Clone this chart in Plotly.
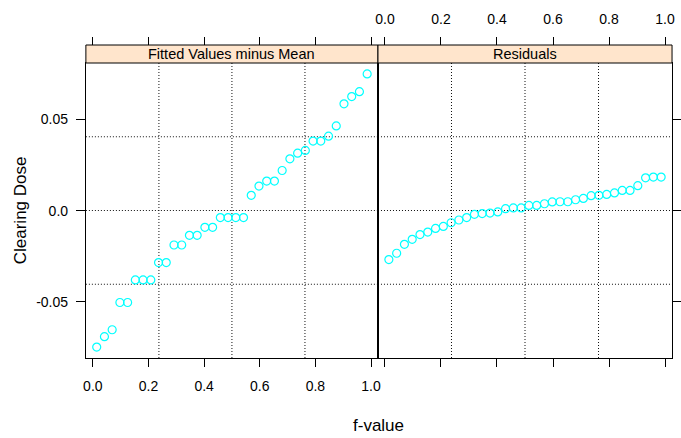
import plotly.graph_objects as go
import numpy as np

fitted_minus_mean = [-0.0747, -0.0690, -0.0652, -0.0503, -0.0503, -0.0379, -0.0379, -0.0379,
                     -0.0284, -0.0284, -0.0188, -0.0188, -0.0135, -0.0135, -0.0091, -0.0091,
                     -0.0038, -0.0038, -0.0038, -0.0038, 0.0084, 0.0135, 0.0162, 0.0162,
                     0.0220, 0.0284, 0.0315, 0.0330, 0.0381, 0.0381, 0.0408, 0.0464,
                     0.0585, 0.0625, 0.0652, 0.0749]
residuals = [-0.0268, -0.0233, -0.0184, -0.0157, -0.0131, -0.0117, -0.0097, -0.0086,
             -0.0066, -0.0051, -0.0038, -0.0020, -0.0016, -0.0013, -0.0007, 0.0011,
             0.0015, 0.0015, 0.0029, 0.0029, 0.0038, 0.0048, 0.0049, 0.0049,
             0.0060, 0.0067, 0.0082, 0.0084, 0.0089, 0.0097, 0.0111, 0.0111,
             0.0137, 0.0180, 0.0184, 0.0184]
panel_titles = ["Fitted Values minus Mean", "Residuals"]
x_ticks = [0.0, 0.2, 0.4, 0.6, 0.8, 1.0]
x_ticktext = ["0.0", "0.2", "0.4", "0.6", "0.8", "1.0"]
y_ticks = [-0.05, 0.0, 0.05]
y_ticktext = ["-0.05", "0.0", "0.05"]

n = len(residuals)
fvals = [(i + 0.5) / n for i in range(n)]

def extend(lo, hi, f=0.04):
    d = hi - lo
    return [lo - f * d, hi + f * d]

allv = fitted_minus_mean + residuals
yr = extend(min(allv), max(allv))
xr = extend(min(fvals), max(fvals))

W, H = 681, 438
FONT = "Liberation Sans, Arial, Helvetica, sans-serif"
px_l0, px_l1, px_r1 = 84, 380, 678
py_top, py_bot, py_strip = 63, 358, 45
dom_l = [px_l0 / W, px_l1 / W]
dom_r = [px_l1 / W, px_r1 / W]
dom_y = [(H - py_bot) / H, (H - py_top) / H]
strip_y0 = (H - py_top) / H
strip_y1 = (H - py_strip) / H

fig = go.Figure()
mk = dict(symbol="circle-open", size=8, color="#00FFFF", line=dict(width=1.2, color="#00FFFF"))
fig.add_trace(go.Scatter(x=fvals, y=fitted_minus_mean, mode="markers", marker=mk,
                         xaxis="x", yaxis="y", showlegend=False))
fig.add_trace(go.Scatter(x=fvals, y=residuals, mode="markers", marker=mk,
                         xaxis="x2", yaxis="y2", showlegend=False))
# dummy traces so overlay axes are drawn
fig.add_trace(go.Scatter(x=[None], y=[None], xaxis="x3", yaxis="y", showlegend=False, hoverinfo="skip"))
fig.add_trace(go.Scatter(x=[None], y=[None], xaxis="x4", yaxis="y2", showlegend=False, hoverinfo="skip"))

tickfont = dict(family=FONT, size=14, color="black")
common_x = dict(range=xr, tickvals=x_ticks, ticktext=x_ticktext, ticks="outside", ticklen=8,
                tickcolor="black", tickwidth=1, showgrid=False, zeroline=False, tickfont=tickfont)

fig.update_layout(
    width=W, height=H, margin=dict(l=0, r=0, t=0, b=0),
    paper_bgcolor="white", plot_bgcolor="white",
    xaxis=dict(domain=dom_l, anchor="y", side="bottom", showline=True, linecolor="black",
               linewidth=1, mirror=True, ticklabelstandoff=7, **common_x),
    xaxis2=dict(domain=dom_r, anchor="y2", side="bottom", showline=True, linecolor="black",
                linewidth=1, mirror=True, showticklabels=False, **common_x),
    xaxis3=dict(overlaying="x", anchor="free", position=strip_y1, side="top", showline=False,
                showticklabels=False, **common_x),
    xaxis4=dict(overlaying="x2", anchor="free", position=strip_y1, side="top", showline=False,
                showticklabels=True, ticklabelstandoff=7, **common_x),
    yaxis=dict(domain=dom_y, anchor="x", range=yr, tickvals=y_ticks, ticktext=y_ticktext,
               ticks="outside", ticklen=9, tickcolor="black", showline=True, linecolor="black",
               mirror=True, showgrid=False, zeroline=False, tickfont=tickfont, ticklabelstandoff=5),
    yaxis2=dict(domain=dom_y, anchor="x2", range=yr, tickvals=y_ticks, side="right",
                ticks="outside", ticklen=9, tickcolor="black", showline=True, linecolor="black",
                mirror=True, showgrid=False, zeroline=False, showticklabels=False),
)

shapes = []
grid_line = dict(color="#111111", width=1, dash="1px,2px")
# panel grids: 3 equally spaced lines in each direction
for xa, ya in (("x", "y"), ("x2", "y2")):
    for k in (1, 2, 3):
        gx = xr[0] + k * (xr[1] - xr[0]) / 4
        gy = yr[0] + k * (yr[1] - yr[0]) / 4
        shapes.append(dict(type="line", xref=xa, yref=ya + " domain", x0=gx, x1=gx, y0=0, y1=1,
                           line=grid_line, layer="below"))
        shapes.append(dict(type="line", xref=xa + " domain", yref=ya, x0=0, x1=1, y0=gy, y1=gy,
                           line=grid_line, layer="below"))
# strips
annotations = []
for dom, title in ((dom_l, panel_titles[0]), (dom_r, panel_titles[1])):
    shapes.append(dict(type="rect", xref="paper", yref="paper", x0=dom[0], x1=dom[1],
                       y0=strip_y0, y1=strip_y1, fillcolor="#FFE5CC",
                       line=dict(color="black", width=1)))
    annotations.append(dict(text=title, xref="paper", yref="paper", x=(dom[0] + dom[1]) / 2,
                            y=(strip_y0 + strip_y1) / 2, showarrow=False, xanchor="center",
                            yanchor="middle", font=dict(family=FONT, size=14.5, color="black")))
annotations.append(dict(text="f-value", xref="paper", yref="paper", x=(px_l0 + px_r1) / 2 / W,
                        y=(H - 425) / H, showarrow=False, xanchor="center", yanchor="middle",
                        font=dict(family=FONT, size=17, color="black")))
annotations.append(dict(text="Clearing Dose", xref="paper", yref="paper", x=18 / W,
                        y=(dom_y[0] + dom_y[1]) / 2, showarrow=False, xanchor="center",
                        yanchor="middle", textangle=-90,
                        font=dict(family=FONT, size=17, color="black")))
fig.update_layout(shapes=shapes, annotations=annotations)

fig.write_html("out.html")
